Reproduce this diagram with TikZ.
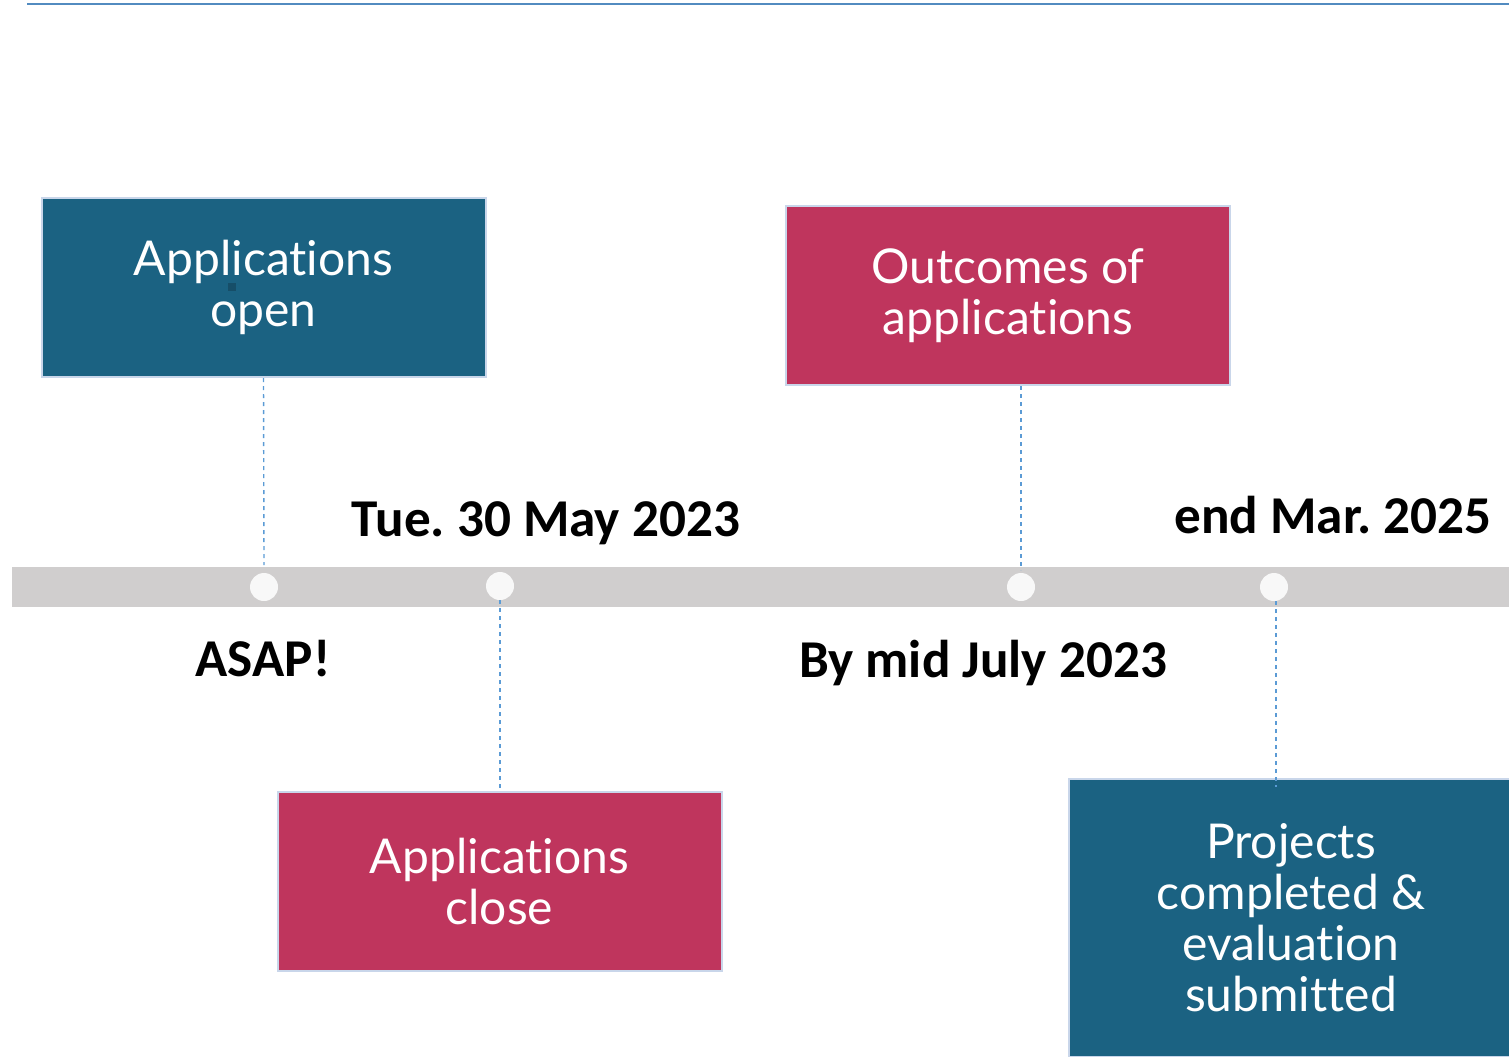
\documentclass[tikz,border=0pt]{standalone}
\usepackage{fontspec}
\setmainfont{Lato}[Ligatures={NoCommon,NoContextual,NoRare}]
\newfontfamily\lblfont{Carlito}
\definecolor{boxblue}{HTML}{1B6282}
\definecolor{boxred}{HTML}{BF355D}
\definecolor{bargray}{HTML}{D0CECE}
\definecolor{dotwhite}{HTML}{F8F8F8}
\definecolor{linkblue}{HTML}{5B9BD5}
\definecolor{edgeblue}{HTML}{C9D6EA}
\tikzset{
  evbox/.style={rectangle, draw=edgeblue, line width=1pt, minimum width=222pt, minimum height=89.5pt, inner sep=0pt, text=white, align=center, font=\fontsize{24}{25.5}\selectfont},
  bluebox/.style={evbox, fill=boxblue},
  redbox/.style={evbox, fill=boxred},
  dot/.style={circle, fill=dotwhite, minimum size=14pt, inner sep=0pt},
  datelbl/.style={inner sep=0pt, font=\lblfont\bfseries\fontsize{26.6}{30}\selectfont},
  link/.style={draw=linkblue, line width=0.7pt, dash pattern=on 2pt off 2pt}
}
\begin{document}
\frenchspacing
\begin{tikzpicture}[x=0.5pt,y=-0.5pt]
\useasboundingbox (0,0) rectangle (1509,1056);
\clip (0,0) rectangle (1509,1056);
% top rule
\draw[draw=linkblue!90!black, line width=1pt] (27,4) -- (1509,4);
% gray bar
\fill[bargray] (12,567) rectangle (1515,607);
% dots
\node[dot] (c1) at (264,587) {};
\node[dot] (c2) at (500,586) {};
\node[dot] (c3) at (1021,587) {};
\node[dot] (c4) at (1274,587) {};
% boxes
\node[bluebox] (b1) at (263.5,287.5) {Applications\\open};
\node[redbox] (b2) at (1008,295.5) {Outcomes of\\applications};
\node[redbox] (b3) at (499.5,881.5) {Applications\\close};
\node[bluebox, minimum height=139pt] (b4) at (1291,918) {Projects\\completed \&\\evaluation\\submitted};
\fill[boxblue!80!black] (228,283) rectangle (236,291);
% date labels
\node[datelbl] (l1) at (546,523) {Tue. 30 May 2023};
\node[datelbl] (l2) at (1333,515) {end Mar. 2025};
\node[datelbl] (l3) at (263,659) {ASAP!};
\node[datelbl] (l4) at (983,663) {By mid July 2023};
% connectors
\coordinate (k1) at (264,565);
\coordinate (k2) at (1021,570);
\coordinate (k4a) at (1276,601);
\coordinate (k4b) at (1276,787);
\draw[link] (b1.south) -- (k1);
\draw[link] (b2.south -| k2) -- (k2);
\draw[link] (c2.south) -- (b3.north -| c2);
\draw[link] (k4a) -- (k4b);
\end{tikzpicture}
\end{document}
